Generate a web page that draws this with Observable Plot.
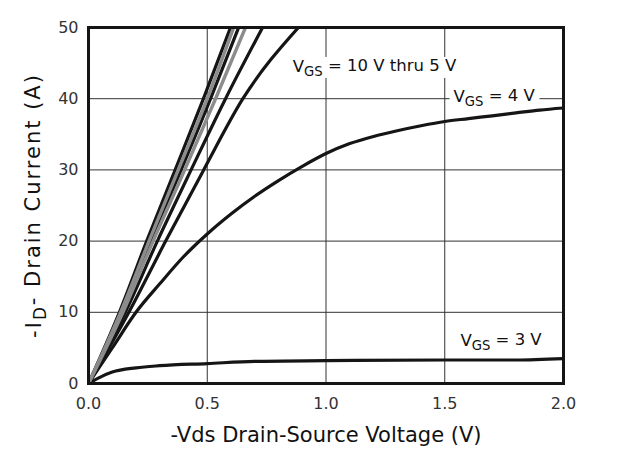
<!DOCTYPE html>
<html>
<head>
<meta charset="utf-8">
<script src="https://cdn.jsdelivr.net/npm/d3@7"></script>
<script src="https://cdn.jsdelivr.net/npm/@observablehq/plot@0.6"></script>
<style>
  html, body { margin: 0; padding: 0; background: #fff; }
  #chart svg { display: block; }
</style>
</head>
<body>
<div id="chart"></div>
<script>
// Gate-voltage curves (VDS in volts, ID in amps)
const vds_10V = [0, 0.13, 0.245, 0.365, 0.484, 0.598];
const id_10V  = [0, 10, 20, 30, 40, 50];
const vds_9V  = [0, 0.135, 0.255, 0.378, 0.500, 0.611];
const id_9V   = [0, 10, 20, 30, 40, 50];
const vds_8V  = [0, 0.14, 0.262, 0.39, 0.514, 0.632];
const id_8V   = [0, 10, 20, 30, 40, 50];
const vds_7V  = [0, 0.145, 0.272, 0.405, 0.535, 0.661];
const id_7V   = [0, 10, 20, 30, 40, 50];
const vds_6V  = [0, 0.155, 0.29, 0.432, 0.577, 0.733];
const id_6V   = [0, 10, 20, 30, 40, 50];
const vds_5V  = [0, 0.17, 0.325, 0.485, 0.65, 0.884];
const id_5V   = [0, 10, 20, 30, 40, 50];
const vds_4V  = [0, 0.1, 0.2, 0.3, 0.4, 0.5, 0.6, 0.7, 0.8, 0.9, 1.0, 1.1, 1.2, 1.3, 1.4, 1.5, 1.6, 1.7, 1.8, 1.9, 2.0];
const id_4V   = [0, 5, 10, 14, 17.8, 21, 23.8, 26.3, 28.5, 30.5, 32.3, 33.7, 34.7, 35.5, 36.2, 36.8, 37.2, 37.6, 38, 38.4, 38.7];
const vds_3V  = [0, 0.05, 0.1, 0.2, 0.3, 0.5, 0.7, 1.0, 1.5, 1.8, 2.0];
const id_3V   = [0, 0.9, 1.6, 2.2, 2.5, 2.8, 3.1, 3.2, 3.3, 3.3, 3.5];

const seriesNames = ["10 V", "9 V", "8 V", "7 V", "6 V", "5 V", "4 V", "3 V"];
const seriesTone  = ["black", "gray", "black", "gray", "black", "black", "black", "black"];
const seriesVds = [vds_10V, vds_9V, vds_8V, vds_7V, vds_6V, vds_5V, vds_4V, vds_3V];
const seriesId  = [id_10V, id_9V, id_8V, id_7V, id_6V, id_5V, id_4V, id_3V];

const xTicks = [0, 0.5, 1.0, 1.5, 2.0];
const yTicks = [0, 10, 20, 30, 40, 50];

const noteText = ["V_GS = 10 V thru 5 V", "V_GS = 4 V", "V_GS = 3 V"];
const noteVds  = [0.86, 1.537, 1.566];
const noteId   = [44.5, 40.3, 6.0];

const rows = [];
seriesNames.forEach((name, k) => {
  seriesVds[k].forEach((v, j) => rows.push({series: name, tone: seriesTone[k], vds: v, id: seriesId[k][j]}));
});
const notes = noteText.map((t, k) => ({text: t, vds: noteVds[k], id: noteId[k]}));

const font = "'DejaVu Sans', Verdana, sans-serif";

const chart = Plot.plot({
  width: 627,
  height: 454,
  marginLeft: 88,
  marginRight: 64,
  marginTop: 27,
  marginBottom: 71,
  style: {fontFamily: font, background: "#fff", color: "#222"},
  x: {domain: [0, 2]},
  y: {domain: [0, 50]},
  marks: [
    Plot.gridX(xTicks.slice(1, -1), {stroke: "#333", strokeOpacity: 1, strokeWidth: 1}),
    Plot.gridY(yTicks.slice(1, -1), {stroke: "#333", strokeOpacity: 1, strokeWidth: 1}),
    Plot.line(rows.filter(d => d.tone === "black"), {x: "vds", y: "id", z: "series", stroke: "#151515", strokeWidth: 3.2, curve: "monotone-x", clip: true}),
    Plot.line(rows.filter(d => d.tone === "gray"), {x: "vds", y: "id", z: "series", stroke: "#8c8c8c", strokeWidth: 3.4, curve: "monotone-x", clip: true}),
    Plot.text(notes, {x: "vds", y: "id", text: "text", textAnchor: "start", fill: "#111", fontSize: 16.5}),
    Plot.frame({stroke: "#151515", strokeWidth: 3}),
    Plot.axisX({ticks: xTicks, tickSize: 0, tickPadding: 14, tickFormat: d3.format(".1f"), label: "-Vds Drain-Source Voltage (V)", labelAnchor: "center", labelArrow: "none", labelOffset: 58}),
    Plot.axisY({ticks: yTicks, tickSize: 0, tickPadding: 10, label: "-I_D- Drain Current (A)", labelAnchor: "center", labelArrow: "none", labelOffset: 62})
  ]
});

document.getElementById("chart").appendChild(chart);

const svg = d3.select(chart);
// tick labels: numeric texts
svg.selectAll("text").each(function() {
  if (/^[0-9.]+$/.test(this.textContent.trim())) {
    d3.select(this).style("font-size", "16px").attr("fill", "#333");
  }
});
// axis titles
svg.selectAll("g[aria-label='x-axis label'] text")
  .style("font-size", "21px").attr("fill", "#111");
svg.selectAll("g[aria-label='y-axis label'] text")
  .style("font-size", "21px").attr("fill", "#111").attr("letter-spacing", "2px");

// subscripts
svg.selectAll("text").each(function() {
  const el = d3.select(this);
  const s = this.textContent;
  if (!s.includes("_")) return;
  const m = s.match(/^(.*?)_([A-Z]+)(.*)$/);
  if (!m) return;
  el.text(null);
  el.append("tspan").text(m[1]);
  el.append("tspan").attr("dy", "0.3em").style("font-size", "0.8em").text(m[2]);
  el.append("tspan").attr("dy", "-0.3em").text(m[3]);
});

// white boxes behind annotations (gridlines break around them)
svg.select("g[aria-label='text']").selectAll("text").each(function() {
  const b = this.getBBox();
  d3.select(this.parentNode).insert("rect", "text")
    .attr("x", b.x - 4).attr("y", b.y + 1)
    .attr("width", b.width + 8).attr("height", b.height - 2)
    .attr("transform", this.getAttribute("transform"))
    .attr("fill", "white").attr("stroke", "none");
});
</script>
</body>
</html>
